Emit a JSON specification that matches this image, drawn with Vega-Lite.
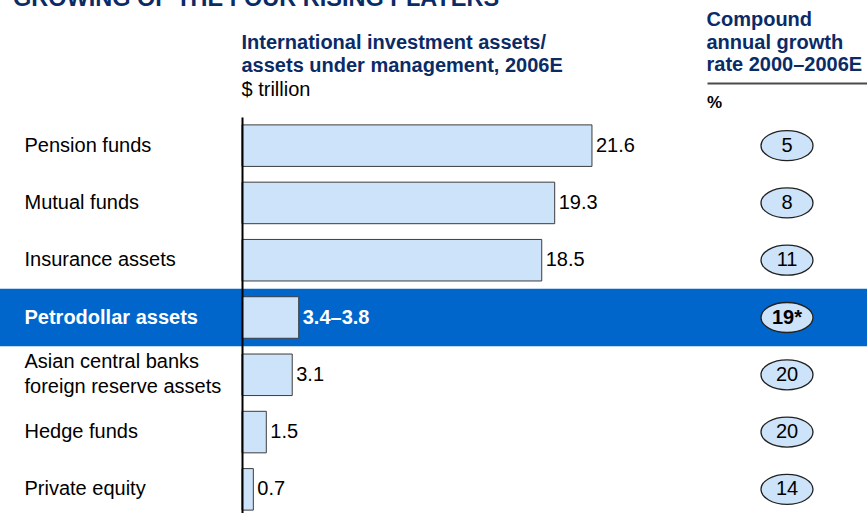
{
  "$schema": "https://vega.github.io/schema/vega-lite/v6.json",
  "background": "white",
  "padding": {"left": 0, "top": -14, "right": 0, "bottom": 0},
  "bounds": "flush",
  "spacing": 0,
  "config": {"view": {"stroke": null}, "font": "Liberation Sans"},
  "data": {"values": [
    {"category": "Pension funds", "value": 21.6, "label": "21.6", "growth": 5, "growthLabel": "5", "highlight": false},
    {"category": "Mutual funds", "value": 19.3, "label": "19.3", "growth": 8, "growthLabel": "8", "highlight": false},
    {"category": "Insurance assets", "value": 18.5, "label": "18.5", "growth": 11, "growthLabel": "11", "highlight": false},
    {"category": "Petrodollar assets", "value": 3.5, "label": "3.4–3.8", "growth": 19, "growthLabel": "19*", "highlight": true},
    {"category": "Asian central banks\nforeign reserve assets", "value": 3.1, "label": "3.1", "growth": 20, "growthLabel": "20", "highlight": false},
    {"category": "Hedge funds", "value": 1.5, "label": "1.5", "growth": 20, "growthLabel": "20", "highlight": false},
    {"category": "Private equity", "value": 0.7, "label": "0.7", "growth": 14, "growthLabel": "14", "highlight": false}
  ]},
  "hconcat": [
    {
      "width": 242,
      "height": 401,
      "title": {"text": "GROWING OF THE FOUR RISING PLAYERS", "anchor": "start", "dx": 13, "offset": 107, "fontSize": 23.5, "fontWeight": "bold", "color": "#0b2b66", "font": "Liberation Sans"},
      "layer": [
        {
          "transform": [{"filter": "datum.highlight"}],
          "mark": {"type": "rect", "color": "#0066cc"},
          "encoding": {
            "y": {"field": "category", "type": "nominal",
              "scale": {"domain": ["Pension funds", "Mutual funds", "Insurance assets", "Petrodollar assets", "Asian central banks\nforeign reserve assets", "Hedge funds", "Private equity"], "paddingInner": 0, "paddingOuter": 0},
              "axis": {"orient": "left", "title": null, "domain": false, "ticks": false, "tickSize": 0, "labelPadding": -24, "labelAlign": "left", "labelBaseline": "middle", "labelFont": "Liberation Sans", "labelFontSize": 20, "labelLimit": 400, "labelOverlap": false, "labelBound": false, "labelLineHeight": 25, "labelExpr": "split(datum.label, '\\n')",
                "labelOffset": {"condition": {"test": "indexof(datum.value, 'Asian') === 0", "value": -13}, "value": 0},
                "labelColor": {"condition": {"test": "datum.value === 'Petrodollar assets'", "value": "white"}, "value": "black"},
                "labelFontWeight": {"condition": {"test": "datum.value === 'Petrodollar assets'", "value": "bold"}, "value": "normal"},
                "zindex": 1}}
          }
        }
      ]
    },
    {
      "width": 465,
      "height": 401,
      "title": {"text": ["International investment assets/", "assets under management, 2006E"], "subtitle": "$ trillion", "anchor": "start", "offset": 17, "fontSize": 20, "fontWeight": "bold", "color": "#0b2b66", "font": "Liberation Sans", "lineHeight": 23, "subtitleFont": "Liberation Sans", "subtitleFontSize": 20, "subtitleColor": "black", "subtitleFontWeight": "normal", "subtitleLineHeight": 23, "subtitlePadding": 4},
      "encoding": {
        "y": {"field": "category", "type": "nominal",
          "scale": {"domain": ["Pension funds", "Mutual funds", "Insurance assets", "Petrodollar assets", "Asian central banks\nforeign reserve assets", "Hedge funds", "Private equity"], "paddingInner": 0, "paddingOuter": 0},
          "axis": {"orient": "left", "title": null, "labels": false, "ticks": false, "domain": true, "domainColor": "black", "domainWidth": 2, "zindex": 1}}
      },
      "layer": [
        {
          "transform": [{"filter": "datum.highlight"}],
          "mark": {"type": "rect", "color": "#0066cc"},
          "encoding": {}
        },
        {
          "mark": {"type": "bar", "height": {"band": 0.725}, "fill": "#cde3f9", "stroke": "#3c3c3c", "strokeWidth": 1},
          "encoding": {
            "x": {"field": "value", "type": "quantitative", "scale": {"domain": [0, 28.7], "nice": false}, "axis": null}
          }
        },
        {
          "transform": [{"filter": "!datum.highlight"}],
          "mark": {"type": "text", "align": "left", "baseline": "middle", "dx": 4, "fontSize": 20, "font": "Liberation Sans", "color": "black"},
          "encoding": {
            "x": {"field": "value", "type": "quantitative"},
            "text": {"field": "label"}
          }
        },
        {
          "transform": [{"filter": "datum.highlight"}],
          "mark": {"type": "text", "align": "left", "baseline": "middle", "dx": 4, "fontSize": 20, "fontWeight": "bold", "font": "Liberation Sans", "color": "white"},
          "encoding": {
            "x": {"field": "value", "type": "quantitative"},
            "text": {"field": "label"}
          }
        }
      ]
    },
    {
      "width": 160,
      "height": 401,
      "title": {"text": ["Compound", "annual growth", "rate 2000–2006E"], "anchor": "start", "offset": 8, "fontSize": 20, "fontWeight": "bold", "color": "#0b2b66", "font": "Liberation Sans", "lineHeight": 22.5},
      "encoding": {
        "y": {"field": "category", "type": "nominal",
          "scale": {"domain": ["Pension funds", "Mutual funds", "Insurance assets", "Petrodollar assets", "Asian central banks\nforeign reserve assets", "Hedge funds", "Private equity"], "paddingInner": 0, "paddingOuter": 0},
          "axis": null},
        "x": {"datum": "%", "type": "nominal", "scale": {"type": "band", "paddingInner": 0, "paddingOuter": 0},
          "axis": {"orient": "top", "title": null, "offset": 34, "domain": true, "domainColor": "#4a4a4a", "domainWidth": 2, "ticks": false, "tickSize": 0, "labelPadding": -24, "labelBaseline": "alphabetic", "labelAlign": "left", "labelOffset": -80, "labelFont": "Liberation Sans", "labelFontSize": 17, "labelFontWeight": "bold", "labelColor": "black", "labelBound": false, "labelFlush": false, "labelOverlap": false, "labelAngle": 0}}
      },
      "layer": [
        {
          "transform": [{"filter": "datum.highlight"}],
          "mark": {"type": "rect", "color": "#0066cc"}
        },
        {
          "mark": {"type": "point", "shape": "M -1 0 A 1 0.577 0 1 1 1 0 A 1 0.577 0 1 1 -1 0 Z", "size": 2704, "filled": true, "fill": "#cde3f9", "stroke": "#222222", "strokeWidth": 1.3, "opacity": 1}
        },
        {
          "transform": [{"filter": "!datum.highlight"}],
          "mark": {"type": "text", "align": "center", "baseline": "middle", "fontSize": 20, "font": "Liberation Sans", "color": "black"},
          "encoding": {"text": {"field": "growthLabel"}}
        },
        {
          "transform": [{"filter": "datum.highlight"}],
          "mark": {"type": "text", "align": "center", "baseline": "middle", "fontSize": 20, "fontWeight": "bold", "font": "Liberation Sans", "color": "black"},
          "encoding": {"text": {"field": "growthLabel"}}
        }
      ]
    }
  ]
}
